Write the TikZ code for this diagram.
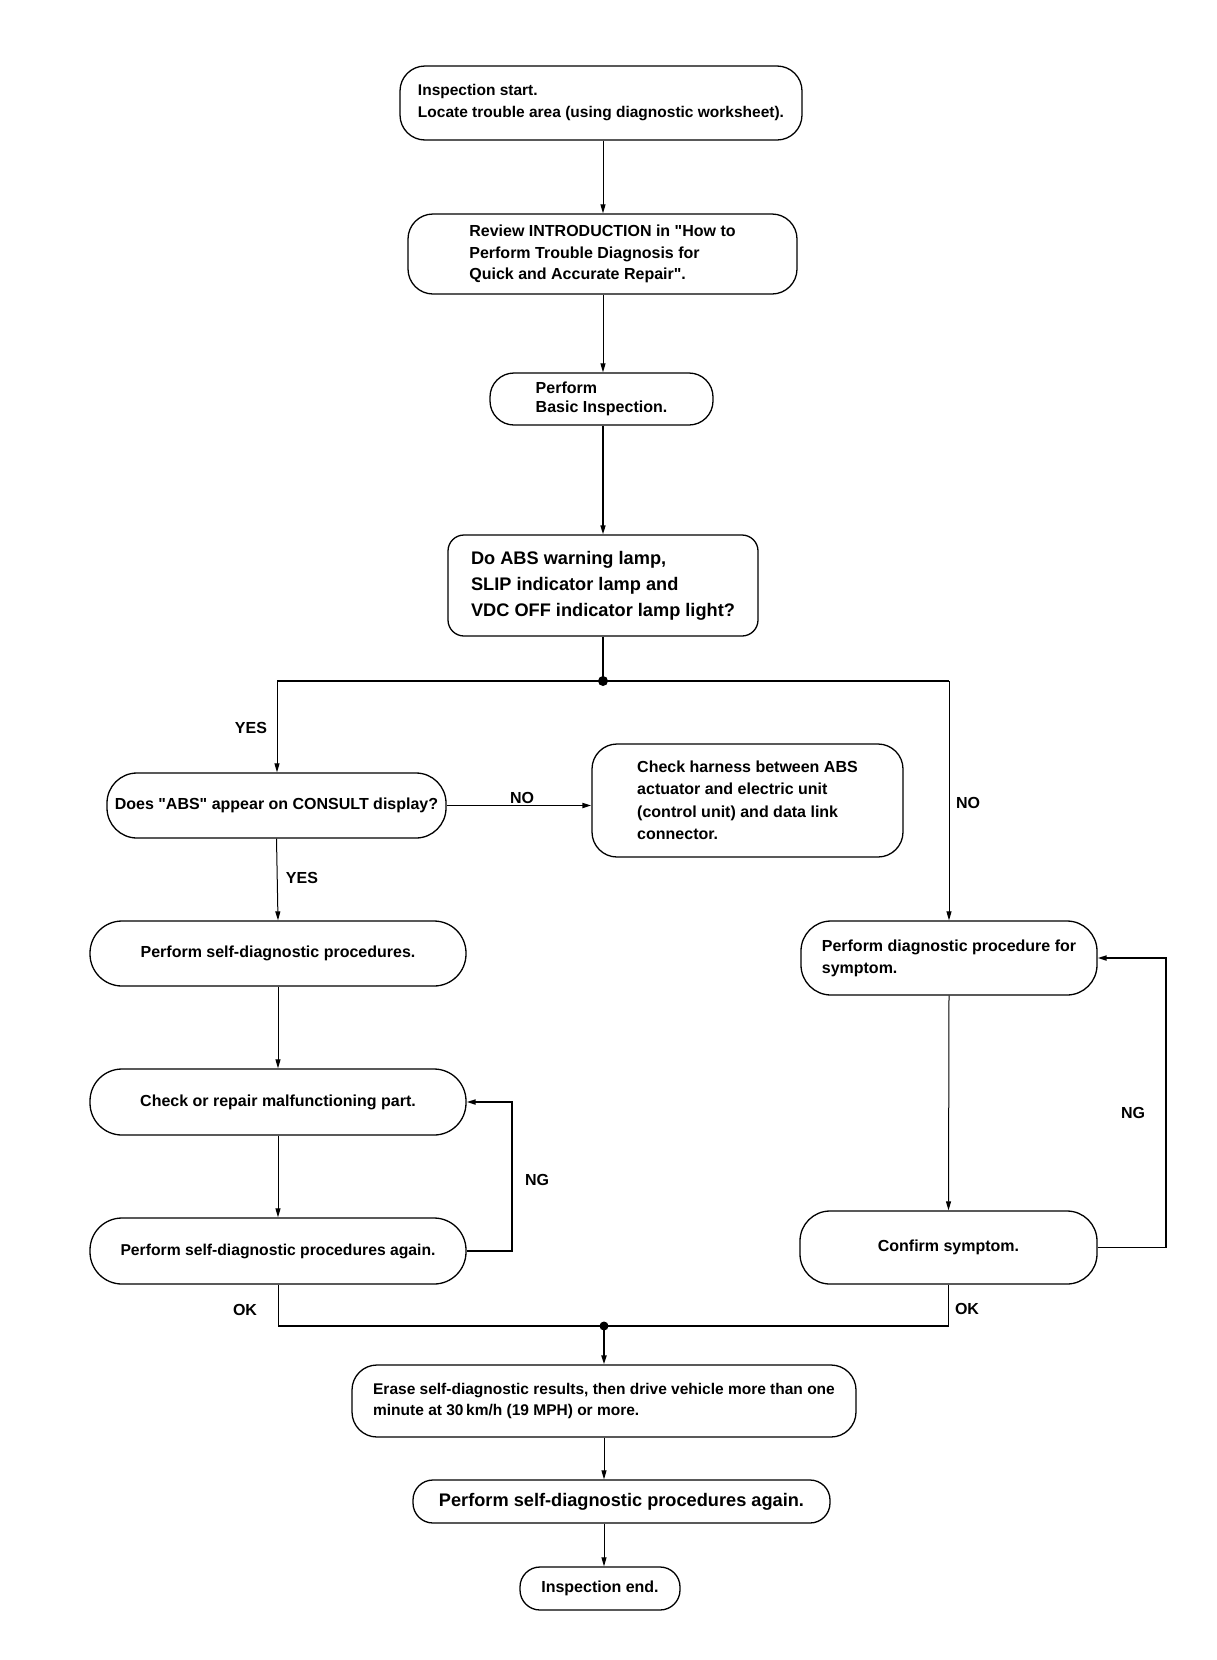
\documentclass[tikz,border=0pt]{standalone}
\usepackage{fontspec}
\setmainfont{Liberation Sans}[Ligatures=TeXOff]
\usetikzlibrary{arrows.meta,calc}
\begin{document}
\begin{tikzpicture}[x=1pt,y=-1pt,
  box/.style={draw, line width=1.3pt, align=left, inner sep=0pt, font=\bfseries\fontsize{16}{22}\selectfont},
  thinline/.style={line width=1pt},
  midline/.style={line width=1.8pt},
  thickline/.style={line width=2.6pt},
  arr/.style={-{Triangle[length=9pt,width=5pt]}},
  lab/.style={font=\bfseries\fontsize{16}{20}\selectfont, inner sep=0pt}
]
\useasboundingbox (0,0) rectangle (1216,1660);
\fill[white] (0,0) rectangle (1216,1660);

% boxes
\node[box, minimum width=402pt, minimum height=74pt, rounded corners=25pt, font=\bfseries\fontsize{15.5}{22}\selectfont] (b1) at (601,103)
  {Inspection start.\\Locate trouble area (using diagnostic worksheet).};
\node[box, minimum width=389pt, minimum height=80pt, rounded corners=25pt, font=\bfseries\fontsize{16}{21.5}\selectfont] (b2) at (602.5,254)
  {Review INTRODUCTION in "How to\\Perform Trouble Diagnosis for\\Quick and Accurate Repair".};
\node[box, minimum width=223pt, minimum height=52pt, rounded corners=24pt, font=\bfseries\fontsize{16}{19.5}\selectfont] (b3) at (601.5,399)
  {Perform\\Basic Inspection.};
\node[box, minimum width=310pt, minimum height=101pt, rounded corners=16pt, font=\bfseries\fontsize{18.2}{26}\selectfont] (b4) at (603,585.5)
  {Do ABS warning lamp,\\SLIP indicator lamp and\\VDC OFF indicator lamp light?};
\node[box, minimum width=339pt, minimum height=65pt, rounded corners=30pt] (b5) at (276.5,805.5)
  {Does "ABS" appear on CONSULT display?};
\node[box, minimum width=311pt, minimum height=113pt, rounded corners=25pt, font=\bfseries\fontsize{16}{22.5}\selectfont] (b6) at (747.5,800.5)
  {Check harness between ABS\\actuator and electric unit\\(control unit) and data link\\connector.};
\node[box, minimum width=376pt, minimum height=65pt, rounded corners=32pt] (b7) at (278,953.5)
  {Perform self-diagnostic procedures.};
\node[box, minimum width=376pt, minimum height=66pt, rounded corners=32pt] (b8) at (278,1102)
  {Check or repair malfunctioning part.};
\node[box, minimum width=376pt, minimum height=66pt, rounded corners=32pt, font=\bfseries\fontsize{15.7}{22}\selectfont] (b9) at (278,1251)
  {Perform self-diagnostic procedures again.};
\node[box, minimum width=296pt, minimum height=74pt, rounded corners=30pt] (b10) at (949,958)
  {Perform diagnostic procedure for\\symptom.};
\node[box, minimum width=297pt, minimum height=73pt, rounded corners=30pt] (b11) at (948.5,1247.5)
  {Confirm symptom.};
\node[box, minimum width=504pt, minimum height=72pt, rounded corners=25pt, font=\bfseries\fontsize{15.5}{21}\selectfont] (b12) at (604,1401)
  {Erase self-diagnostic results, then drive vehicle more than one\\minute at 30\,km/h (19 MPH) or more.};
\node[box, minimum width=417pt, minimum height=43pt, rounded corners=20pt, font=\bfseries\fontsize{18.2}{22}\selectfont] (b13) at (621.5,1501.5)
  {Perform self-diagnostic procedures again.};
\node[box, minimum width=160pt, minimum height=43pt, rounded corners=20pt] (b14) at (600,1588.5)
  {Inspection end.};

% helper coordinates
\coordinate (ax) at (603,0);
\coordinate (j1) at (603,681);
\coordinate (jl) at (277,681);
\coordinate (jr) at (949,681);
\coordinate (l1) at (512,0);
\coordinate (l2) at (1166,0);
\coordinate (j2) at (604,1326);

% connectors
\draw[thinline,arr] (b1.south -| ax) -- (b2.north -| ax);
\draw[thinline,arr] (b2.south -| ax) -- (b3.north -| ax);
\draw[line width=1.5pt,arr] (b3.south -| ax) -- (b4.north -| ax);
\draw[line width=1.5pt] (b4.south -| ax) -- (j1);
\draw[thickline] (jl) -- (jr);
\fill (j1) circle (5pt);
\draw[thinline,arr] (jl) -- (jl |- b5.north);
\draw[thinline,arr] (jr) -- (jr |- b10.north);
\draw[midline,arr] (b5.east) -- (b5.east -| b6.west);
\draw[thinline,arr] (b5.south) -- (b7.north);
\draw[thinline,arr] (b7.south) -- (b8.north);
\draw[thinline,arr] (b8.south) -- (b9.north);
\draw[midline,arr] (b9.east) -- (b9.east -| l1) -- (b8.east -| l1) -- (b8.east);
\draw[thinline,arr] (b10.south) -- (b11.north);
\draw[midline,arr] (b11.east) -- (b11.east -| l2) -- (b10.east -| l2) -- (b10.east);
\draw[thinline] (b9.south) -- (b9.south |- j2);
\draw[midline] (b11.south) -- (b11.south |- j2);
\draw[midline] (b9.south |- j2) -- (b11.south |- j2);
\fill (j2) circle (4.5pt);
\draw[midline,arr] (j2) -- (j2 |- b12.north);
\draw[thinline,arr] (b12.south -| j2) -- (b13.north -| j2);
\draw[thinline,arr] (b13.south -| j2) -- (b14.north -| j2);

% labels
\node[lab] (yes1) at (251,728) {YES};
\node[lab] (no1) at (522,798) {NO};
\node[lab] (no2) at (968,803) {NO};
\node[lab] (yes2) at (302,878) {YES};
\node[lab] (ng1) at (537,1180) {NG};
\node[lab] (ng2) at (1133,1113) {NG};
\node[lab] (ok1) at (245,1310) {OK};
\node[lab] (ok2) at (967,1309) {OK};
\end{tikzpicture}
\end{document}
